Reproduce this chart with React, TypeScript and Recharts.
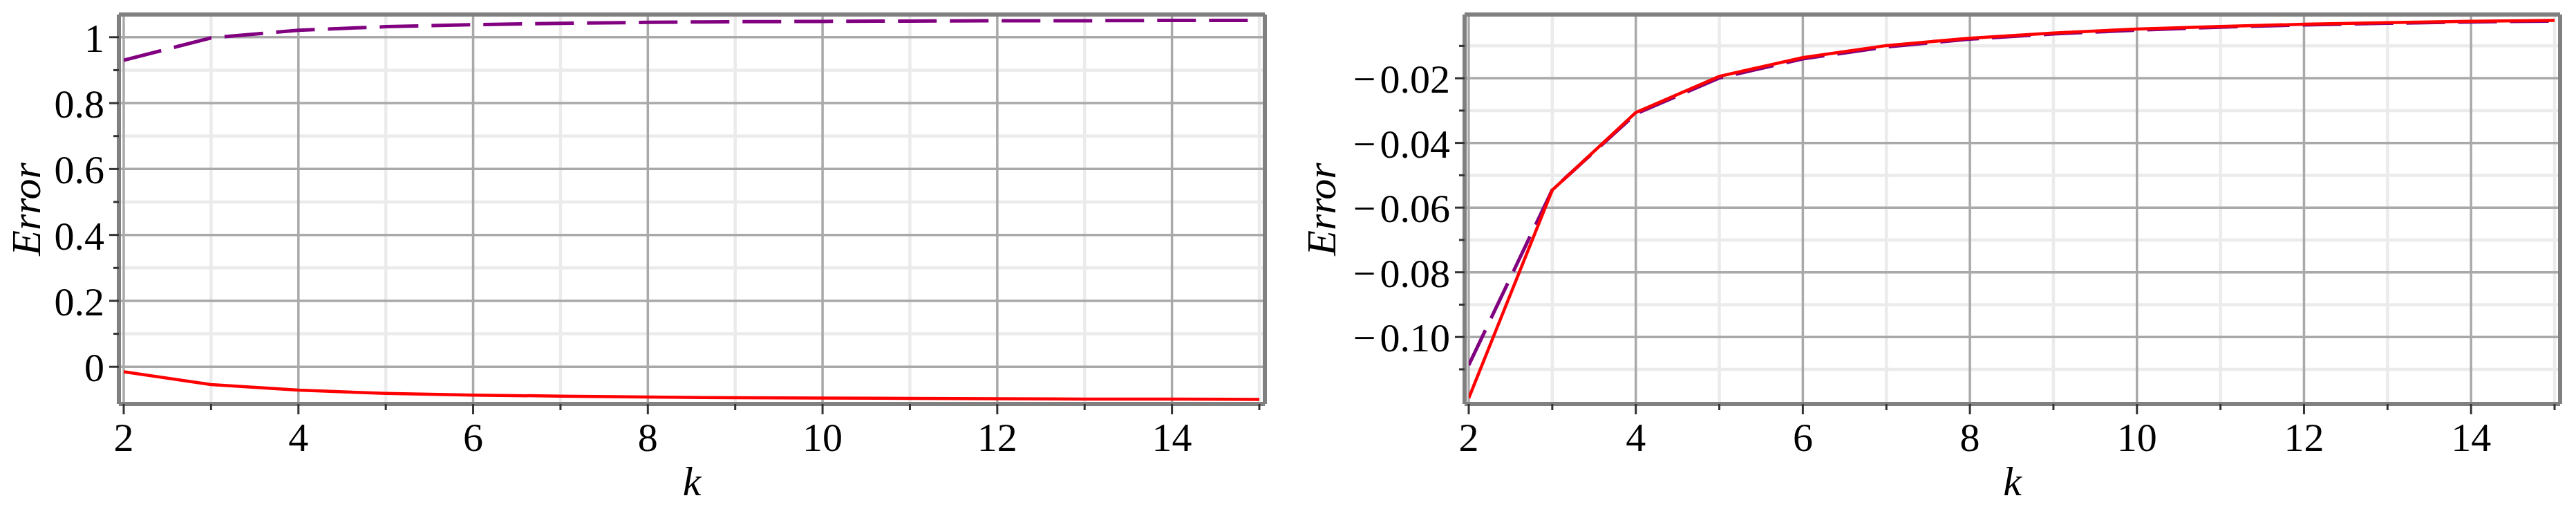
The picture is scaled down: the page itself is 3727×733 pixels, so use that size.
import React from 'react';
import { LineChart, Line, XAxis, YAxis, CartesianGrid } from 'recharts';

// ---------- data ----------
const kValues = [2, 3, 4, 5, 6, 7, 8, 9, 10, 11, 12, 13, 14, 15];
const leftPurple = [0.930, 0.998, 1.021, 1.032, 1.038, 1.042, 1.045, 1.047, 1.048, 1.049, 1.050, 1.050, 1.051, 1.051];
const leftRed = [-0.015, -0.054, -0.071, -0.081, -0.086, -0.089, -0.092, -0.094, -0.095, -0.096, -0.097, -0.098, -0.098, -0.099];
const rightPurple = [-0.1087, -0.0545, -0.0310, -0.0199, -0.0140, -0.0103, -0.0079, -0.0063, -0.0051, -0.0042, -0.0035, -0.0030, -0.0026, -0.0023];
const rightRed = [-0.1189, -0.0546, -0.0306, -0.0194, -0.0136, -0.0099, -0.0076, -0.0060, -0.0048, -0.0040, -0.0033, -0.0028, -0.0024, -0.0021];

const xMajorTicks = [2, 4, 6, 8, 10, 12, 14];
const xMinorTicks = [3, 5, 7, 9, 11, 13, 15];
const xTickLabels = ['2', '4', '6', '8', '10', '12', '14'];

const leftYMajorTicks = [0, 0.2, 0.4, 0.6, 0.8, 1];
const leftYMinorTicks = [0.1, 0.3, 0.5, 0.7, 0.9];
const leftYTickLabels = ['0', '0.2', '0.4', '0.6', '0.8', '1'];
const leftYDomain = [-0.1128, 1.0688];

const rightYMajorTicks = [-0.1, -0.08, -0.06, -0.04, -0.02];
const rightYMinorTicks = [-0.11, -0.09, -0.07, -0.05, -0.03, -0.01];
const rightYTickLabels = ['\u22120.10', '\u22120.08', '\u22120.06', '\u22120.04', '\u22120.02'];
const rightYDomain = [-0.1207, -0.0003];

const xLabel = 'k';
const yLabel = 'Error';

const leftData = kValues.map((k, i) => ({ k, purple: leftPurple[i], red: leftRed[i] }));
const rightData = kValues.map((k, i) => ({ k, purple: rightPurple[i], red: rightRed[i] }));

// ---------- style ----------
const FONT = '"Liberation Serif", "Times New Roman", Times, serif';
const FRAME = '#808080';
const TICKC = '#333333';
const MAJOR_GRID = '#a9a9a9';
const MINOR_GRID = '#ebebeb';

const near = (a: number, b: number) => Math.abs(a - b) < 1e-9;
const findIdx = (arr: number[], v: number) => arr.findIndex((t) => near(t, v));

const XTick = (props: any) => {
  const { x, y, payload } = props;
  const v = payload.value as number;
  const idx = findIdx(xMajorTicks, v);
  const major = idx >= 0;
  return (
    <g>
      <line x1={x} x2={x} y1={y} y2={y + (major ? 15 : 9)} stroke={TICKC} strokeWidth={3} />
      {major && (
        <text x={x} y={y + 68} textAnchor="middle" fontFamily={FONT} fontSize={58} fill="#000">
          {xTickLabels[idx]}
        </text>
      )}
    </g>
  );
};

const makeYTick = (majors: number[], labels: string[]) => (props: any) => {
  const { x, y, payload } = props;
  const v = payload.value as number;
  const idx = findIdx(majors, v);
  const major = idx >= 0;
  const label = major ? labels[idx] : '';
  const hasMinus = label.startsWith('\u2212');
  return (
    <g>
      <line x1={x - (major ? 14 : 8)} x2={x} y1={y} y2={y} stroke={TICKC} strokeWidth={3} />
      {major && (
        <text x={x - 21} y={y + 21} textAnchor="end" fontFamily={FONT} fontSize={58} fill="#000">
          {hasMinus ? (
            <>
              <tspan>{'\u2212'}</tspan>
              <tspan dx={6}>{label.slice(1)}</tspan>
            </>
          ) : (
            label
          )}
        </text>
      )}
    </g>
  );
};

const makeYLabel = (dxBaseline: number) => (props: any) => {
  const vb = props.viewBox || {};
  const x = (vb.x || 0) + dxBaseline;
  const y = (vb.y || 0) + (vb.height || 0) / 2;
  return (
    <text
      x={x}
      y={y}
      transform={`rotate(-90, ${x}, ${y})`}
      textAnchor="middle"
      fontFamily={FONT}
      fontStyle="italic"
      fontSize={60}
      fill="#000"
    >
      {yLabel}
    </text>
  );
};

const XLabel = (props: any) => {
  const vb = props.viewBox || {};
  const x = (vb.x || 0) + (vb.width || 0) / 2;
  const y = (vb.y || 0) + 132;
  return (
    <text x={x} y={y} textAnchor="middle" fontFamily={FONT} fontStyle="italic" fontSize={60} fill="#000">
      {xLabel}
    </text>
  );
};

type PanelProps = {
  data: any[];
  width: number;
  yAxisWidth: number;
  marginRight: number;
  padLeft: number;
  padRight: number;
  yDomain: number[];
  yMajor: number[];
  yMinor: number[];
  yLabels: string[];
  yLabelOffset: number;
};

const Panel = (p: PanelProps) => {
  const yTicks = [...p.yMinor, ...p.yMajor].sort((a, b) => a - b);
  const xTicks = [...xMajorTicks, ...xMinorTicks].sort((a, b) => a - b);
  const frameLine = { stroke: FRAME, strokeWidth: 6 };
  return (
    <LineChart
      width={p.width}
      height={733}
      data={p.data}
      margin={{ top: 20, right: p.marginRight, bottom: 0, left: 0 }}
    >
      <CartesianGrid
        stroke={MINOR_GRID}
        strokeWidth={4.5}
        horizontalValues={p.yMinor}
        verticalValues={xMinorTicks}
      />
      <CartesianGrid
        stroke={MAJOR_GRID}
        strokeWidth={3.5}
        horizontalValues={p.yMajor}
        verticalValues={xMajorTicks}
      />
      <XAxis
        dataKey="k"
        type="number"
        domain={[2, 15]}
        allowDataOverflow
        ticks={xTicks}
        interval={0}
        padding={{ left: p.padLeft, right: p.padRight }}
        height={149}
        axisLine={frameLine}
        tickLine={false}
        tickSize={0}
        tickMargin={0}
        tick={<XTick />}
        label={{ content: XLabel }}
      />
      <XAxis
        xAxisId="top"
        orientation="top"
        dataKey="k"
        type="number"
        domain={[2, 15]}
        height={1}
        axisLine={frameLine}
        tick={false}
        tickLine={false}
      />
      <YAxis
        type="number"
        domain={p.yDomain}
        allowDataOverflow
        ticks={yTicks}
        interval={0}
        width={p.yAxisWidth}
        axisLine={frameLine}
        tickLine={false}
        tickSize={0}
        tickMargin={0}
        tick={makeYTick(p.yMajor, p.yLabels)}
        label={{ content: makeYLabel(p.yLabelOffset) }}
      />
      <YAxis
        yAxisId="right"
        orientation="right"
        type="number"
        domain={p.yDomain}
        allowDataOverflow
        width={1}
        axisLine={frameLine}
        tick={false}
        tickLine={false}
      />
      <Line
        type="linear"
        dataKey="purple"
        stroke="#800080"
        strokeWidth={5}
        strokeDasharray="56 19"
        dot={false}
        activeDot={false}
        isAnimationActive={false}
      />
      <Line
        type="linear"
        dataKey="red"
        stroke="#ff0000"
        strokeWidth={4.5}
        dot={false}
        activeDot={false}
        isAnimationActive={false}
      />
    </LineChart>
  );
};

export default function App() {
  return (
    <div
      style={{
        position: 'absolute',
        left: 0,
        top: 0,
        width: 3727,
        height: 733,
        background: '#fff',
        overflow: 'hidden',
      }}
    >
      <div style={{ position: 'absolute', left: 0, top: 0 }}>
        <Panel
          data={leftData}
          width={1850}
          yAxisWidth={172}
          marginRight={19}
          padLeft={7}
          padRight={8}
          yDomain={leftYDomain}
          yMajor={leftYMajorTicks}
          yMinor={leftYMinorTicks}
          yLabels={leftYTickLabels}
          yLabelOffset={58}
        />
      </div>
      <div style={{ position: 'absolute', left: 1850, top: 0 }}>
        <Panel
          data={rightData}
          width={1877}
          yAxisWidth={269}
          marginRight={22}
          padLeft={6}
          padRight={8}
          yDomain={rightYDomain}
          yMajor={rightYMajorTicks}
          yMinor={rightYMinorTicks}
          yLabels={rightYTickLabels}
          yLabelOffset={82}
        />
      </div>
    </div>
  );
}
